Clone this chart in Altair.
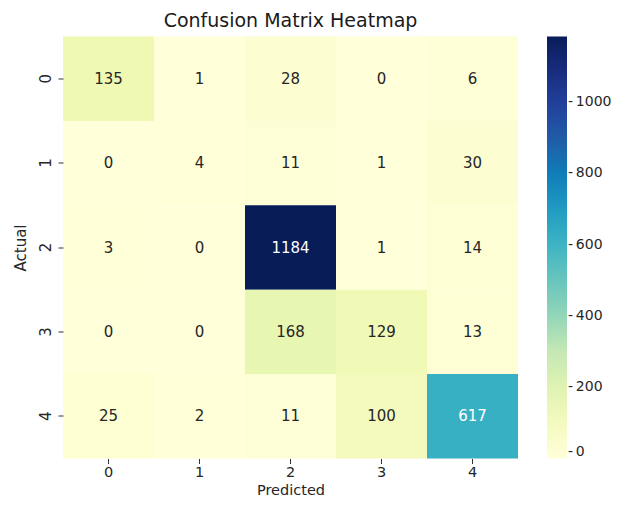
import altair as alt
import pandas as pd

classes = ["0", "1", "2", "3", "4"]
row_0 = [135, 1, 28, 0, 6]
row_1 = [0, 4, 11, 1, 30]
row_2 = [3, 0, 1184, 1, 14]
row_3 = [0, 0, 168, 129, 13]
row_4 = [25, 2, 11, 100, 617]
matrix = [row_0, row_1, row_2, row_3, row_4]
legend_ticks = [0, 200, 400, 600, 800, 1000]

ylgnbu = ["#ffffd9", "#edf8b1", "#c7e9b4", "#7fcdbb", "#41b6c4",
          "#1d91c0", "#225ea8", "#253494", "#081d58"]
vmax = 1184
stops = [vmax * k / (len(ylgnbu) - 1) for k in range(len(ylgnbu))]

records = []
for i, a in enumerate(classes):
    for j, p in enumerate(classes):
        records.append({"Actual": a, "Predicted": p, "value": matrix[i][j]})
df = pd.DataFrame(records)

FONT = "DejaVu Sans"
PLOT_H = 422

base = alt.Chart(df).encode(
    x=alt.X("Predicted:O", sort=classes,
            scale=alt.Scale(paddingInner=0, paddingOuter=0),
            axis=alt.Axis(labelAngle=0, domain=False, tickSize=5, tickColor="#333333",
                          tickWidth=1, labelFontSize=14.5, labelFont=FONT, labelColor="#262626",
                          labelPadding=2, title="Predicted", titleFont=FONT, titleFontSize=14.5,
                          titleFontWeight="normal", titleColor="#262626", titlePadding=4)),
    y=alt.Y("Actual:O", sort=classes,
            scale=alt.Scale(paddingInner=0, paddingOuter=0),
            axis=alt.Axis(labelAngle=270, domain=False, tickSize=5, tickColor="#333333",
                          tickWidth=1, labelFontSize=15, labelFont=FONT, labelColor="#262626",
                          labelPadding=5, title="Actual", titleFont=FONT, titleFontSize=15,
                          titleFontWeight="normal", titleColor="#262626", titlePadding=10)),
)

rect = base.mark_rect(strokeWidth=0).encode(
    color=alt.Color("value:Q",
                    scale=alt.Scale(domain=stops, range=ylgnbu),
                    legend=alt.Legend(title=None, orient="none", legendX=484, legendY=0,
                                      direction="vertical", gradientLength=PLOT_H,
                                      gradientThickness=20, gradientStrokeWidth=0,
                                      values=legend_ticks, format="d", labelFont=FONT,
                                      labelFontSize=14, labelLimit=200,
                                      labelColor="#262626", labelOffset=1,
                                      labelBaseline="middle",
                                      labelExpr="'-\u2009' + datum.label"))
)

text = base.mark_text(font=FONT, fontSize=15).encode(
    text="value:Q",
    color=alt.condition("datum.value > 400", alt.value("#ffffff"), alt.value("#262626")),
)

chart = (rect + text).properties(
    width=455, height=PLOT_H,
    title=alt.TitleParams("Confusion Matrix Heatmap", font=FONT, fontSize=19,
                          fontWeight="normal", color="#1a1a1a", offset=6),
    autosize=alt.AutoSizeParams(type="none"),
    padding={"left": 55, "top": 28.5, "right": 94, "bottom": 41.5},
).configure_view(strokeWidth=0)

chart.save("out.html", embed_options={"renderer": "svg", "actions": False})
